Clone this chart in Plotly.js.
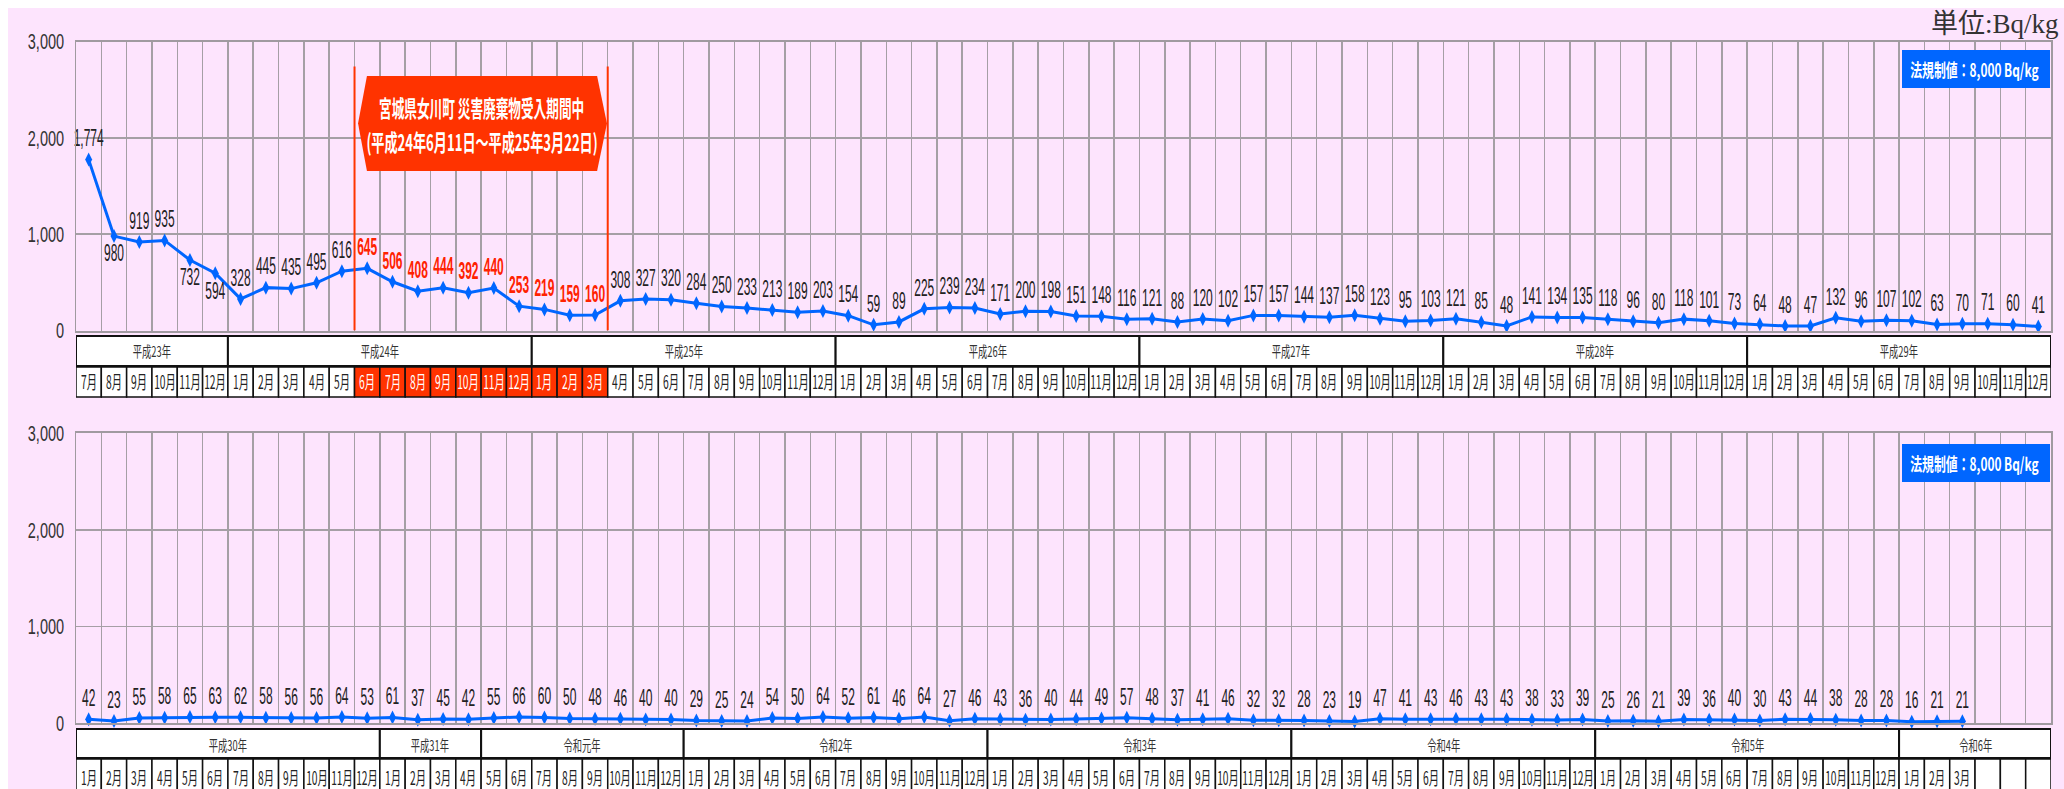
<!DOCTYPE html>
<html>
<head>
<meta charset="utf-8">
<script src="https://cdn.plot.ly/plotly-3.0.1.min.js"></script>
<style>
  html, body { margin: 0; padding: 0; background: #ffffff; }
  #chart { width: 2064px; height: 789px; }
</style>
</head>
<body>
<div id="chart"></div>
<script>
// ---------------- DATA ----------------
const months12 = ['1月','2月','3月','4月','5月','6月','7月','8月','9月','10月','11月','12月'];

// Upper chart: 平成23年7月 – 平成29年12月
const topYears = ['平成23年','平成24年','平成25年','平成26年','平成27年','平成28年','平成29年'];
const topYearSpans = [6, 12, 12, 12, 12, 12, 12];
const topMonths = [
  '7月','8月','9月','10月','11月','12月',
  ...months12, ...months12, ...months12, ...months12, ...months12, ...months12
];
const topValues = [
  1774, 980, 919, 935, 732, 594,
  328, 445, 435, 495, 616, 645, 506, 408, 444, 392, 440, 253,
  219, 159, 160, 308, 327, 320, 284, 250, 233, 213, 189, 203,
  154, 59, 89, 225, 239, 234, 171, 200, 198, 151, 148, 116,
  121, 88, 120, 102, 157, 157, 144, 137, 158, 123, 95, 103,
  121, 85, 48, 141, 134, 135, 118, 96, 80, 118, 101, 73,
  64, 48, 47, 132, 96, 107, 102, 63, 70, 71, 60, 41
];
// labels drawn under the point
const topLabelsBelow = [1, 4, 5];
// 女川町 災害廃棄物受入期間 (平成24年6月 – 平成25年3月)
const receivingFrom = 11;
const receivingTo = 20;
const receivingTitle = '宮城県女川町 災害廃棄物受入期間中';
const receivingDates = '(平成24年6月11日～平成25年3月22日)';

// Lower chart: 平成30年1月 – 令和6年3月
const bottomYears = ['平成30年','平成31年','令和元年','令和2年','令和3年','令和4年','令和5年','令和6年'];
const bottomYearSpans = [12, 4, 8, 12, 12, 12, 12, 6];
const bottomMonths = [
  ...months12,
  '1月','2月','3月','4月',
  '5月','6月','7月','8月','9月','10月','11月','12月',
  ...months12, ...months12, ...months12, ...months12,
  '1月','2月','3月','','',''
];
const bottomValues = [
  42, 23, 55, 58, 65, 63, 62, 58, 56, 56, 64, 53,
  61, 37, 45, 42,
  55, 66, 60, 50, 48, 46, 40, 40,
  29, 25, 24, 54, 50, 64, 52, 61, 46, 64, 27, 46,
  43, 36, 40, 44, 49, 57, 48, 37, 41, 46, 32, 32,
  28, 23, 19, 47, 41, 43, 46, 43, 43, 38, 33, 39,
  25, 26, 21, 39, 36, 40, 30, 43, 44, 38, 28, 28,
  16, 21, 21
];

const yTicks = [0, 1000, 2000, 3000];
const limitText = '法規制値：8,000 Bq/kg';
const unitText = '単位:Bq/kg';

// ---------------- STYLE ----------------
const W = 2064, H = 789;
const px = v => v / W;
const py = v => 1 - v / H;
const PINK = '#fde4fd';
const BLUE = '#0066ff';
const RED = '#ff3300';
const GRID = '#a59fa5';
const NUMFONT = 'Liberation Sans, Arial, sans-serif';
const JPFONT = 'Noto Sans CJK JP, Noto Sans, sans-serif';

const shapes = [];
const annotations = [];
const annScale = [];
function addAnn(a, s) {
  annotations.push(Object.assign({xanchor:'center', yanchor:'middle', showarrow:false}, a));
  annScale.push(s || 1);
}

// pink background
shapes.push({type:'rect', xref:'paper', yref:'paper', x0:px(8), x1:1.01, y0:-0.02, y1:py(8),
  fillcolor:PINK, line:{width:0}, layer:'below'});

function buildTable(xref, years, spans, months, yearTop, yearBot, monTop, monBot, monText, yearText, redFrom, redTo) {
  let start = 0;
  years.forEach((yr, k) => {
    const n = spans[k];
    shapes.push({type:'rect', xref:xref, yref:'paper', x0:start-0.5, x1:start+n-0.5,
      y0:py(yearBot), y1:py(yearTop), fillcolor:'#ffffff', line:{color:'#111', width:2}, layer:'above'});
    addAnn({xref:xref, yref:'paper', x:start+(n-1)/2, y:py(yearText), text:yr,
      font:{family:JPFONT, size:15, color:'#333'}}, 0.62);
    start += n;
  });
  months.forEach((m, i) => {
    const red = i >= redFrom && i <= redTo;
    shapes.push({type:'rect', xref:xref, yref:'paper', x0:i-0.5, x1:i+0.5,
      y0:py(monBot), y1:py(monTop), fillcolor: red ? RED : '#ffffff', line:{color:'#111', width:1.5}, layer:'above'});
    if (m) addAnn({xref:xref, yref:'paper', x:i, y:py(monText), text:m,
      font:{family:JPFONT, size:18, color: red ? '#ffffff' : '#222'}}, 0.57);
  });
}
buildTable('x', topYears, topYearSpans, topMonths, 336, 366, 367, 397, 381, 351, receivingFrom, receivingTo);
buildTable('x2', bottomYears, bottomYearSpans, bottomMonths, 729, 758, 759, 800, 777, 744, -1, -1);

// receiving period lines + label box
[receivingFrom - 0.5, receivingTo + 0.5].forEach(xv => {
  shapes.push({type:'line', xref:'x', yref:'y', x0:xv, x1:xv, y0:0, y1:2740, line:{color:RED, width:2}, layer:'above'});
});
{
  const l = receivingFrom - 0.5, r = receivingTo + 0.5;
  const p = `M ${l+0.49},2642 L ${r-0.42},2642 L ${r-0.03},2149 L ${r-0.42},1656 L ${l+0.49},1656 L ${l+0.14},2149 Z`;
  shapes.push({type:'path', xref:'x', yref:'y', path:p, fillcolor:RED, line:{width:0}, layer:'above'});
  const cx = (l + r) / 2 + 0.03;
  addAnn({xref:'x', yref:'y', x:cx, y:2320, text:receivingTitle,
    font:{family:JPFONT, size:23, color:'#ffffff', weight:'bold'}}, 0.55);
  addAnn({xref:'x', yref:'y', x:cx, y:1966, text:receivingDates,
    font:{family:JPFONT, size:23, color:'#ffffff', weight:'bold'}}, 0.57);
}

// limit boxes
[[50, 88], [444, 482]].forEach(([t, b]) => {
  shapes.push({type:'rect', xref:'paper', yref:'paper', x0:px(1902), x1:px(2050), y0:py(b), y1:py(t),
    fillcolor:BLUE, line:{width:0}, layer:'above'});
  addAnn({xref:'paper', yref:'paper', x:px(1974), y:py((t+b)/2), text:limitText,
    font:{family:JPFONT, size:18, color:'#ffffff', weight:'bold'}}, 0.66);
});

// unit text
addAnn({xref:'paper', yref:'paper', x:px(2061), y:py(24), xanchor:'right', yanchor:'middle', text:unitText,
  font:{family:'Liberation Serif, Noto Sans CJK JP, serif', size:27, color:'#333'}}, 1);

// ---------------- TRACES ----------------
function series(values, xa, ya, posFn, colFn, weightFn) {
  return {
    x: values.map((_, i) => i), y: values, xaxis: xa, yaxis: ya,
    type:'scatter', mode:'lines+markers+text',
    texttemplate:'%{y:,}',
    textposition: values.map((_, i) => posFn(i)),
    textfont:{family:NUMFONT, size:24, color: values.map((_, i) => colFn(i)), weight: values.map((_, i) => weightFn(i))},
    line:{color:BLUE, width:3},
    marker:{symbol:'diamond-tall', size:10, color:BLUE},
    cliponaxis:false, hoverinfo:'skip'
  };
}
const inRecv = i => i >= receivingFrom && i <= receivingTo;
const data = [
  series(topValues, 'x', 'y',
    i => topLabelsBelow.includes(i) ? 'bottom center' : 'top center',
    i => inRecv(i) ? '#ff2200' : '#222',
    i => inRecv(i) ? 700 : 400),
  series(bottomValues, 'x2', 'y2', () => 'top center', () => '#222', () => 400)
];

// ---------------- LAYOUT ----------------
const bounds = topValues.map((_, i) => i + 0.5).slice(0, 77);
function xAxis(anchor) {
  return {domain:[px(76), px(2051)], range:[-0.5, 77.5], anchor:anchor, tickvals:bounds,
    showticklabels:false, ticks:'', showgrid:true, gridcolor:GRID, gridwidth:1.5, zeroline:false,
    showline:true, mirror:true, linecolor:'#a09aa0', linewidth:2, fixedrange:true};
}
function yAxis(anchor, top, bot) {
  return {domain:[py(bot), py(top)], range:[0, 3000], anchor:anchor, tickvals:yTicks,
    tickformat:',d', separatethousands:true, ticks:'', ticklabelstandoff:6,
    tickfont:{family:NUMFONT, size:22, color:'#333'},
    showgrid:true, gridcolor:GRID, gridwidth:1.5, zeroline:false,
    showline:true, mirror:true, linecolor:'#a09aa0', linewidth:1.5, fixedrange:true};
}
const layout = {
  width:W, height:H, margin:{l:0, r:0, t:0, b:0}, autosize:false,
  paper_bgcolor:'#ffffff', plot_bgcolor:'rgba(0,0,0,0)', showlegend:false,
  xaxis: xAxis('y'), yaxis: yAxis('x', 41.5, 330.5),
  xaxis2: xAxis('y2'), yaxis2: yAxis('x2', 433.3, 723.3),
  shapes: shapes, annotations: annotations
};

function condense(el, sx, pivot) {
  const bb = el.getBBox();
  const cx = pivot === 'end' ? bb.x + bb.width : bb.x + bb.width / 2;
  const prev = el.getAttribute('transform') || '';
  el.setAttribute('transform', prev + ` translate(${cx},0) scale(${sx},1) translate(${-cx},0)`);
}

const gd = document.getElementById('chart');
Plotly.newPlot(gd, data, layout, {staticPlot:true, displayModeBar:false}).then(() => {
  gd.querySelectorAll('.textpoint text').forEach(t => condense(t, 0.5, 'middle'));
  gd.querySelectorAll('.ytick text, .y2tick text').forEach(t => condense(t, 0.66, 'end'));
  gd.querySelectorAll('g.annotation').forEach(g => {
    const idx = +g.getAttribute('data-index');
    const s = annScale[idx];
    if (s && s !== 1) {
      const t = g.querySelector('text.annotation-text');
      if (t) condense(t, s, 'middle');
    }
  });
});
</script>
</body>
</html>
